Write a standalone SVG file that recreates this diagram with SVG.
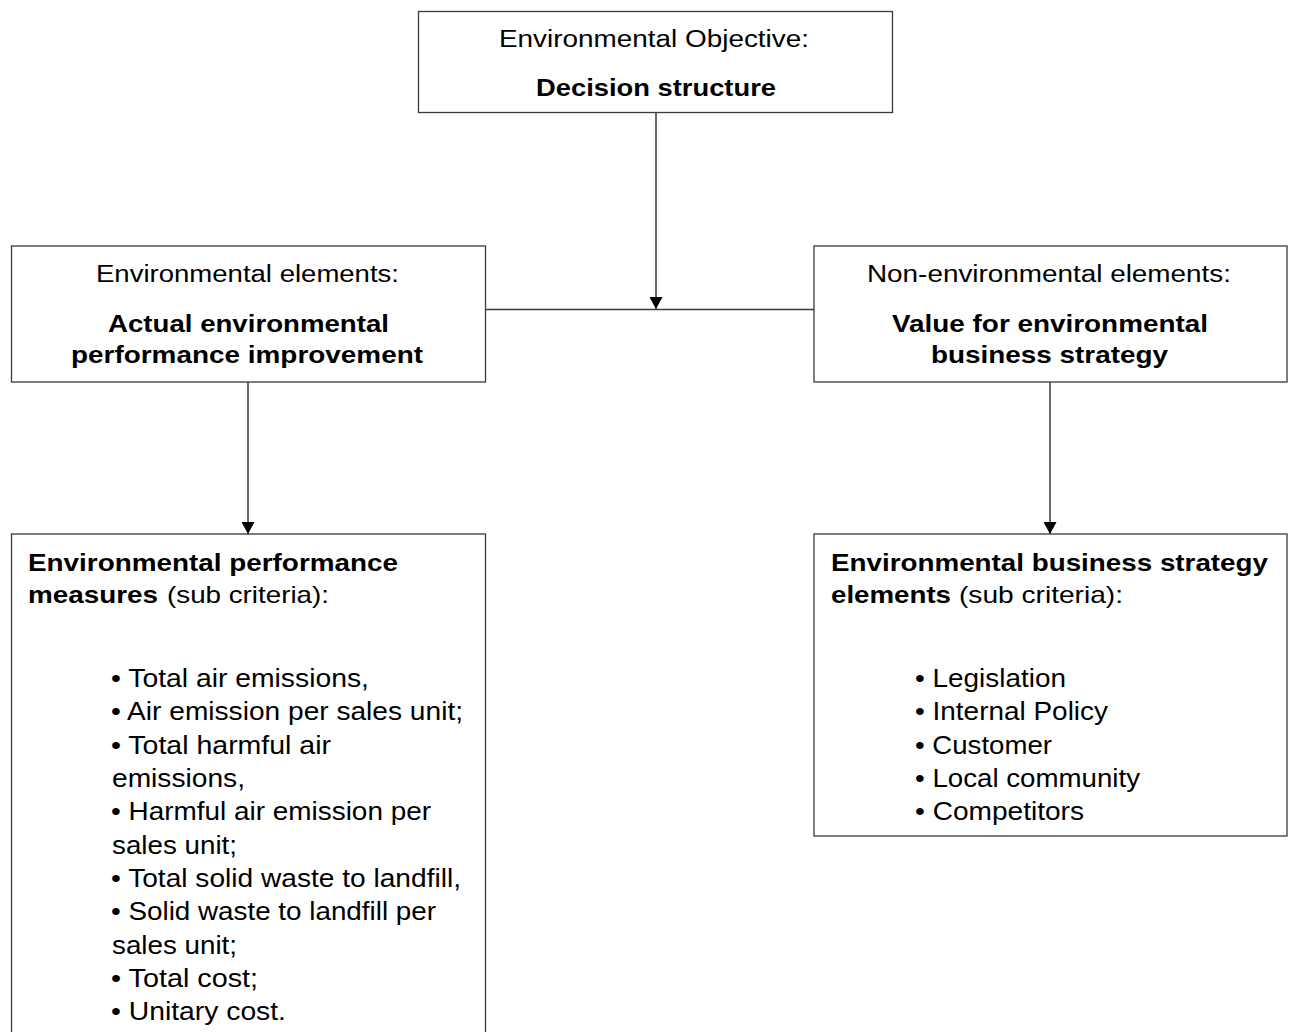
<svg xmlns="http://www.w3.org/2000/svg" width="1289" height="1032" viewBox="0 0 1289 1032">
  <style>
    .box { fill: #ffffff; stroke: #3a3a3a; stroke-width: 1.3; }
    .link { fill: none; stroke: #3a3a3a; stroke-width: 1.5; }
    text { font-family: "Liberation Sans", Arial, sans-serif; fill: #000000; }
    .hd { font-size: 23px; }
    .hb { font-size: 23px; font-weight: bold; }
    .sb { font-size: 24px; font-weight: bold; }
    .sn { font-size: 24px; }
    .li { font-size: 25.5px; }
  </style>
  <defs>
    <marker id="arrow" viewBox="0 0 12 13" refX="12" refY="6.5" markerWidth="12" markerHeight="13" markerUnits="userSpaceOnUse" orient="auto">
      <path d="M0,0 L12,6.5 L0,13 Z" fill="#000000"/>
    </marker>
  </defs>
  <rect width="1289" height="1032" fill="#ffffff"/>

  <g id="connectors">
    <line class="link" x1="656" y1="112" x2="656" y2="309" marker-end="url(#arrow)"/>
    <line class="link" x1="485" y1="309.5" x2="814" y2="309.5"/>
    <line class="link" x1="248" y1="382" x2="248" y2="534" marker-end="url(#arrow)"/>
    <line class="link" x1="1050" y1="382" x2="1050" y2="534" marker-end="url(#arrow)"/>
  </g>

  <g id="objective">
    <rect class="box" x="418.5" y="11.5" width="474" height="101"/>
    <text class="hd" x="499" y="47" textLength="310" lengthAdjust="spacingAndGlyphs">Environmental Objective:</text>
    <text class="hb" x="536" y="96" textLength="240" lengthAdjust="spacingAndGlyphs">Decision structure</text>
  </g>

  <g id="environmental-elements">
    <rect class="box" x="11.5" y="246" width="474" height="136"/>
    <text class="hd" x="96" y="282" textLength="303" lengthAdjust="spacingAndGlyphs">Environmental elements:</text>
    <text class="hb" x="108" y="332" textLength="281" lengthAdjust="spacingAndGlyphs">Actual environmental</text>
    <text class="hb" x="71" y="363" textLength="352" lengthAdjust="spacingAndGlyphs">performance improvement</text>
  </g>

  <g id="non-environmental-elements">
    <rect class="box" x="814" y="246" width="473" height="136"/>
    <text class="hd" x="867" y="282" textLength="364" lengthAdjust="spacingAndGlyphs">Non-environmental elements:</text>
    <text class="hb" x="892" y="332" textLength="316" lengthAdjust="spacingAndGlyphs">Value for environmental</text>
    <text class="hb" x="931" y="363" textLength="237" lengthAdjust="spacingAndGlyphs">business strategy</text>
  </g>

  <g id="performance-measures">
    <rect class="box" x="11.5" y="534" width="474" height="510"/>
    <text class="sb" x="28" y="571" textLength="370" lengthAdjust="spacingAndGlyphs">Environmental performance</text>
    <text class="sb" x="28" y="603" textLength="130" lengthAdjust="spacingAndGlyphs">measures</text>
    <text class="sn" x="167" y="603" textLength="162" lengthAdjust="spacingAndGlyphs">(sub criteria):</text>
    <text class="li" x="111" y="687" textLength="258" lengthAdjust="spacingAndGlyphs">• Total air emissions,</text>
    <text class="li" x="111" y="720" textLength="352" lengthAdjust="spacingAndGlyphs">• Air emission per sales unit;</text>
    <text class="li" x="111" y="753.5" textLength="220" lengthAdjust="spacingAndGlyphs">• Total harmful air</text>
    <text class="li" x="112" y="787" textLength="133" lengthAdjust="spacingAndGlyphs">emissions,</text>
    <text class="li" x="111" y="820" textLength="320" lengthAdjust="spacingAndGlyphs">• Harmful air emission per</text>
    <text class="li" x="112" y="853.5" textLength="125" lengthAdjust="spacingAndGlyphs">sales unit;</text>
    <text class="li" x="111" y="887" textLength="350" lengthAdjust="spacingAndGlyphs">• Total solid waste to landfill,</text>
    <text class="li" x="111" y="920" textLength="325" lengthAdjust="spacingAndGlyphs">• Solid waste to landfill per</text>
    <text class="li" x="112" y="953.5" textLength="125" lengthAdjust="spacingAndGlyphs">sales unit;</text>
    <text class="li" x="111" y="987" textLength="147" lengthAdjust="spacingAndGlyphs">• Total cost;</text>
    <text class="li" x="111" y="1020" textLength="175" lengthAdjust="spacingAndGlyphs">• Unitary cost.</text>
  </g>

  <g id="strategy-elements">
    <rect class="box" x="814" y="534" width="473" height="302"/>
    <text class="sb" x="831" y="571" textLength="437" lengthAdjust="spacingAndGlyphs">Environmental business strategy</text>
    <text class="sb" x="831" y="603" textLength="120" lengthAdjust="spacingAndGlyphs">elements</text>
    <text class="sn" x="959" y="603" textLength="164" lengthAdjust="spacingAndGlyphs">(sub criteria):</text>
    <text class="li" x="915" y="687" textLength="151" lengthAdjust="spacingAndGlyphs">• Legislation</text>
    <text class="li" x="915" y="720" textLength="193" lengthAdjust="spacingAndGlyphs">• Internal Policy</text>
    <text class="li" x="915" y="753.5" textLength="137" lengthAdjust="spacingAndGlyphs">• Customer</text>
    <text class="li" x="915" y="787" textLength="225" lengthAdjust="spacingAndGlyphs">• Local community</text>
    <text class="li" x="915" y="820" textLength="169" lengthAdjust="spacingAndGlyphs">• Competitors</text>
  </g>
</svg>
